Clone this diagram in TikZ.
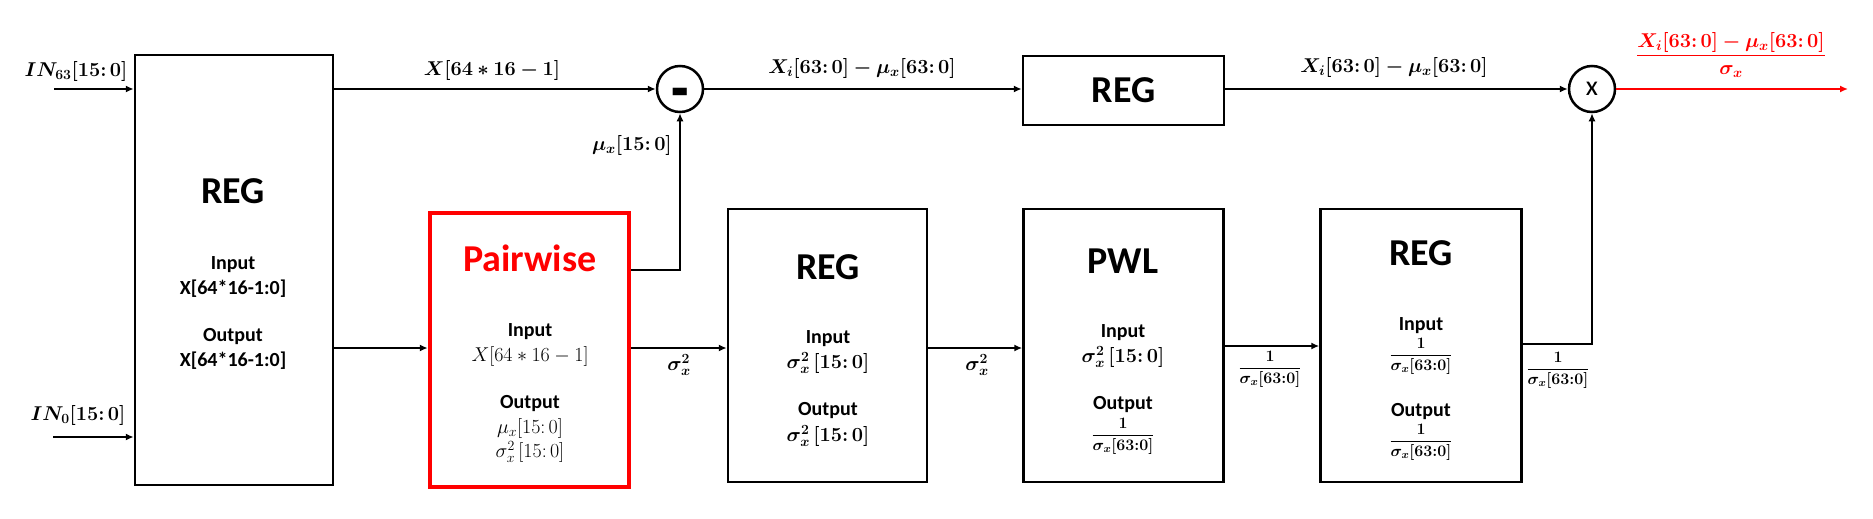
\RequirePackage{fix-cm}
\documentclass[tikz,border=0pt]{standalone}
\usepackage{amsmath}
\usepackage{bm}
\usepackage[no-math]{fontspec}
\setmainfont{Carlito}
\usetikzlibrary{arrows.meta}
\definecolor{pred}{RGB}{255,0,0}
\tikzset{
  blk/.style={draw=black, line width=2.5pt, inner sep=0pt, fill=white},
  redblk/.style={draw=pred, line width=4.5pt, inner sep=0pt, fill=white},
  circ/.style={draw=black, line width=2.5pt, circle, minimum size=46pt, inner sep=0pt},
  ttl/.style={font=\fontsize{38}{40}\selectfont\bfseries},
  sub/.style={font=\fontsize{20}{22}\selectfont\bfseries, inner sep=0pt},
  mth/.style={font=\fontsize{20}{22}\selectfont, inner sep=0pt},
  lbl/.style={font=\fontsize{20}{22}\selectfont, inner sep=0pt},
  frc/.style={font=\fontsize{16}{18}\selectfont, inner sep=0pt},
  wire/.style={line width=2pt, -{Latex[length=8pt,width=7pt]}},
  plain/.style={line width=2pt}
}
\begin{document}
\begin{tikzpicture}[x=1pt,y=-1pt]
\useasboundingbox (0,0) rectangle (1873,519);

% boxes
\node[blk, minimum width=198pt, minimum height=430pt] (bigreg) at (234,270) {};
\node[redblk, minimum width=199pt, minimum height=274pt] (pair) at (529.5,350) {};
\node[blk, minimum width=199pt, minimum height=273pt] (reg2) at (827.5,345.5) {};
\node[blk, minimum width=200pt, minimum height=273pt] (pwl) at (1123.5,345.5) {};
\node[blk, minimum width=201pt, minimum height=273pt] (reg3) at (1421,345.5) {};
\node[blk, ttl, minimum width=201pt, minimum height=69pt] (topreg) at (1123.5,90.5) {REG};
\node[circ] (minus) at (680,89) {};
\node[anchor=base, inner sep=0pt, font=\fontsize{30}{30}\selectfont\bfseries] (minussign) at (680,112) {\scalebox{1.9}[2.4]{-}};
\node[circ, font=\fontsize{28}{28}\selectfont] (times) at (1592,89) {x};

% big REG text
\node[ttl] (t1) at (233,191) {REG};
\node[sub] (t1i) at (233,265) {Input};
\node[sub] (t1a) at (233,289) {X[64*16-1:0]};
\node[sub] (t1o) at (233,337) {Output};
\node[sub] (t1b) at (233,361) {X[64*16-1:0]};

% Pairwise text
\node[ttl, text=pred] (t2) at (530,258) {Pairwise};
\node[sub] (t2i) at (530,332) {Input};
\node[mth] (t2a) at (530,356) {$X[64*16-1]$};
\node[sub] (t2o) at (530,404) {Output};
\node[mth] (t2b) at (530,428) {$\mu_x[15{:}\,0]$};
\node[mth] (t2c) at (530,452) {$\sigma_x^2\,[15{:}\,0]$};

% REG2 text
\node[ttl] (t3) at (828,267) {REG};
\node[sub] (t3i) at (828,339) {Input};
\node[mth] (t3a) at (828,363) {$\bm{\sigma_x^2\,[15{:}\,0]}$};
\node[sub] (t3o) at (828,411) {Output};
\node[mth] (t3b) at (828,436) {$\bm{\sigma_x^2\,[15{:}\,0]}$};

% PWL text
\node[ttl] (t4) at (1123,261) {PWL};
\node[sub] (t4i) at (1123,333) {Input};
\node[mth] (t4a) at (1123,357) {$\bm{\sigma_x^2\,[15{:}\,0]}$};
\node[sub] (t4o) at (1123,405) {Output};
\node[frc] (t4b) at (1123,436) {$\dfrac{\bm{1}}{\bm{\sigma_x[63{:}0]}}$};

% REG3 text
\node[ttl] (t5) at (1421,253) {REG};
\node[sub] (t5i) at (1421,326) {Input};
\node[frc] (t5a) at (1421,356) {$\dfrac{\bm{1}}{\bm{\sigma_x[63{:}0]}}$};
\node[sub] (t5o) at (1421,412) {Output};
\node[frc] (t5b) at (1421,442) {$\dfrac{\bm{1}}{\bm{\sigma_x[63{:}0]}}$};

% helper coordinates
\coordinate (in63) at (54,89);
\coordinate (in0) at (53,437);
\coordinate (y270) at (0,270);
\coordinate (y348) at (0,348);
\coordinate (y346) at (0,346);
\coordinate (y344) at (0,344);
\coordinate (outend) at (1848,89);

% connectors
\draw[wire] (in63) -- (bigreg.west |- in63);
\draw[wire] (in0) -- (bigreg.west |- in0);
\draw[wire] (bigreg.east |- minus) -- (minus.west);
\draw[wire] (bigreg.east |- y348) -- (pair.west |- y348);
\draw[wire] (pair.east |- y270) -| (minus.south);
\draw[wire] (minus.east) -- (topreg.west |- minus);
\draw[wire] (topreg.east |- times) -- (times.west);
\draw[wire] (pair.east |- y348) -- (reg2.west |- y348);
\draw[wire] (reg2.east |- y348) -- (pwl.west |- y348);
\draw[wire] (pwl.east |- y346) -- (reg3.west |- y346);
\draw[wire] (reg3.east |- y344) -| (times.south);
\draw[wire, draw=pred, color=pred] (times.east) -- (outend);

% connector labels
\node[lbl] (l1) at (76,72) {$\bm{IN_{63}[15{:}\,0]}$};
\node[lbl] (l2) at (78,415) {$\bm{IN_{0}[15{:}\,0]}$};
\node[lbl] (l3) at (492,70) {$\bm{X[64*16-1]}$};
\node[lbl, anchor=east] (l4) at (672,145) {$\bm{\mu_x[15{:}\,0]}$};
\node[lbl] (l5) at (862,69) {$\bm{X_i[63{:}\,0]-\mu_x[63{:}\,0]}$};
\node[lbl] (l6) at (1394,67) {$\bm{X_i[63{:}\,0]-\mu_x[63{:}\,0]}$};
\node[lbl] (l7) at (679,365) {$\bm{\sigma_x^2}$};
\node[lbl] (l8) at (977,365) {$\bm{\sigma_x^2}$};
\node[frc] (l9) at (1270,369) {$\dfrac{\bm{1}}{\bm{\sigma_x[63{:}0]}}$};
\node[frc] (l10) at (1558,370) {$\dfrac{\bm{1}}{\bm{\sigma_x[63{:}0]}}$};
\node[lbl, text=pred] (l11) at (1731,55) {$\dfrac{\bm{X_i[63{:}\,0]-\mu_x[63{:}\,0]}}{\bm{\sigma_x}}$};
\end{tikzpicture}
\end{document}
